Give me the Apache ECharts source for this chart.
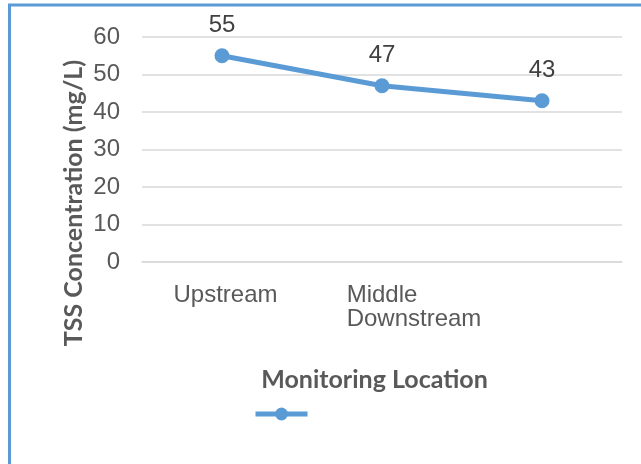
<!DOCTYPE html>
<html>
<head>
<meta charset="utf-8">
<script src="https://cdn.jsdelivr.net/npm/echarts@6/dist/echarts.min.js"></script>
<style>
  html, body { margin: 0; padding: 0; background: #fff; }
  #tss_chart { width: 641px; height: 464px; }
</style>
</head>
<body>
<div id="tss_chart"></div>
<script>
// monitoring locations and TSS values (mg/L)
var categories = ['Upstream', 'Middle', 'Downstream']
var tssValues = [55, 47, 43]
// how the labels show up under the axis in the original
var axisLabels = ['Upstream', 'Middle\nDownstream', '']
var yTicks = { min: 0, max: 60, interval: 10 }

var blue = '#5B9BD5'
var tss_chart = echarts.init(document.getElementById('tss_chart'))

var option = {
  backgroundColor: '#fff',
  animation: false,
  grid: {
    left: 142,
    right: 19,
    top: 37,
    bottom: 202,
    containLabel: false
  },
  legend: {
    left: 253,
    top: 406,
    padding: 0,
    itemWidth: 52,
    itemHeight: 16,
    formatter: function() { return '' },
    lineStyle: { width: 5 },
    data: ['TSS']
  },
  xAxis: {
    type: 'category',
    data: categories,
    axisTick: { show: false },
    axisLine: { lineStyle: { color: '#d9d9d9', width: 1.5 } },
    axisLabel: {
      interval: 0,
      margin: 21,
      color: '#595959',
      fontSize: 24,
      fontFamily: 'Liberation Sans, Arial, sans-serif',
      lineHeight: 24,
      formatter: function(val, idx) {
        var txt = axisLabels[idx]
        if (!txt) return ''
        if (idx === 1) {
          return txt.split('\n').map(function(s) { return '{m|' + s + '}' }).join('\n')
        }
        return '{u|' + txt + '}'
      },
      rich: {
        u: { fontSize: 24, color: '#595959', lineHeight: 24, padding: [0, 0, 0, 7] },
        m: { fontSize: 24, color: '#595959', lineHeight: 24, align: 'left', padding: [0, 0, 0, 64] }
      }
    }
  },
  yAxis: {
    type: 'value',
    min: yTicks.min,
    max: yTicks.max,
    interval: yTicks.interval,
    axisLine: { show: false },
    axisTick: { show: false },
    splitLine: { lineStyle: { color: '#d9d9d9', width: 1.5 } },
    axisLabel: {
      margin: 22,
      color: '#595959',
      fontSize: 24,
      fontFamily: 'Liberation Sans, Arial, sans-serif'
    }
  },
  series: [
    {
      name: 'TSS',
      type: 'line',
      data: tssValues,
      symbol: 'circle',
      symbolSize: 15,
      itemStyle: { color: blue },
      lineStyle: { color: blue, width: 5 },
      label: {
        show: true,
        position: 'top',
        distance: 11,
        color: '#404040',
        fontSize: 24,
        fontFamily: 'Liberation Sans, Arial, sans-serif'
      }
    }
  ],
  graphic: [
    {
      type: 'rect',
      shape: { x: 9.5, y: 5, width: 700, height: 520 },
      style: { fill: 'none', stroke: blue, lineWidth: 3 },
      silent: true
    },
    {
      type: 'text',
      x: 74,
      y: 203,
      rotation: Math.PI / 2,
      style: {
        text: 'TSS Concentration (mg/L)',
        font: 'bold 25px Lato, "Open Sans", sans-serif',
        fill: '#595959',
        align: 'center',
        verticalAlign: 'middle'
      }
    },
    {
      type: 'text',
      x: 374.5,
      y: 380,
      style: {
        text: 'Monitoring Location',
        font: 'bold 25px Lato, "Open Sans", sans-serif',
        fill: '#595959',
        align: 'center',
        verticalAlign: 'middle'
      }
    }
  ]
}

tss_chart.setOption(option)
</script>
</body>
</html>
